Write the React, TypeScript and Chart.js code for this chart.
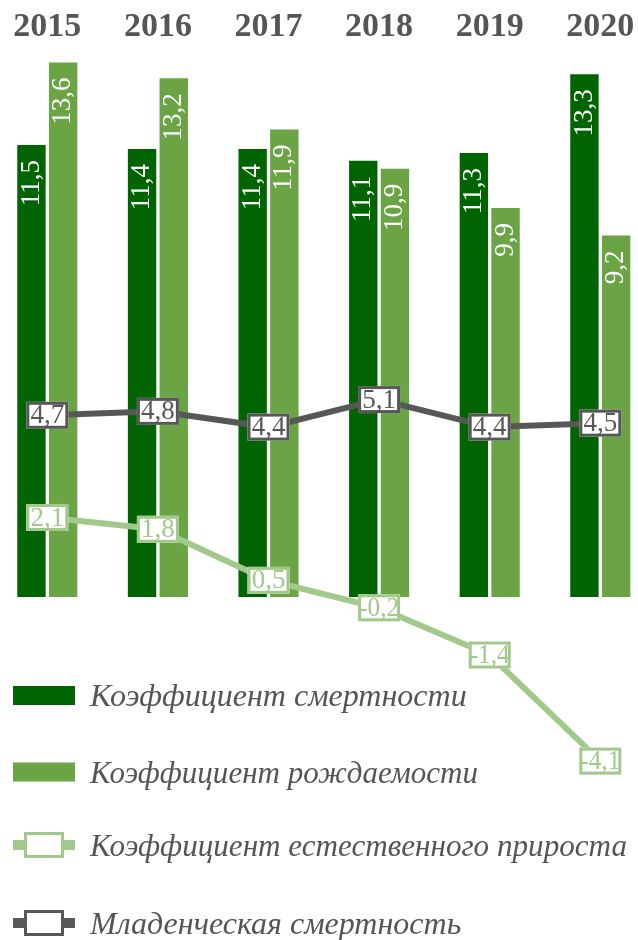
import React, { useEffect, useRef } from "react";
import { Chart, registerables } from "chart.js";

Chart.register(...registerables);

const years = ["2015", "2016", "2017", "2018", "2019", "2020"];
const mortality = [11.5, 11.4, 11.4, 11.1, 11.3, 13.3];
const birthRate = [13.6, 13.2, 11.9, 10.9, 9.9, 9.2];
const naturalGrowth = [2.1, 1.8, 0.5, -0.2, -1.4, -4.1];
const infantMortality = [4.7, 4.8, 4.4, 5.1, 4.4, 4.5];

const seriesNames = [
  "Коэффициент смертности",
  "Коэффициент рождаемости",
  "Коэффициент естественного прироста",
  "Младенческая смертность",
];

const DARK_GREEN = "#006400";
const MID_GREEN = "#6aa444";
const LIGHT_GREEN = "#a2c98b";
const GREY = "#575757";
const TEXT_GREY = "#555555";

const fmt = (v: number) => String(v).replace(".", ",");

const valueLabels = {
  id: "valueLabels",
  afterDatasetsDraw(chart: any) {
    const ctx = chart.ctx;
    chart.data.datasets.forEach((ds: any, i: number) => {
      const meta = chart.getDatasetMeta(i);
      meta.data.forEach((el: any, j: number) => {
        const text = fmt(ds.data[j]);
        if (ds.type === "bar") {
          ctx.save();
          ctx.translate(el.x, el.y + 15);
          ctx.rotate(-Math.PI / 2);
          ctx.font = '27px "Liberation Serif"';
          ctx.fillStyle = "#ffffff";
          ctx.textAlign = "right";
          ctx.textBaseline = "middle";
          ctx.fillText(text, 0, 0);
          ctx.restore();
        } else {
          const w = 42;
          const h = 27;
          const lw = 3;
          ctx.save();
          ctx.fillStyle = "#ffffff";
          ctx.fillRect(el.x - w / 2, el.y - h / 2, w, h);
          ctx.lineWidth = lw;
          ctx.strokeStyle = ds.borderColor;
          ctx.strokeRect(el.x - w / 2 + lw / 2, el.y - h / 2 + lw / 2, w - lw, h - lw);
          ctx.font = '27px "Liberation Serif"';
          ctx.fillStyle = ds.borderColor;
          ctx.textAlign = "center";
          ctx.textBaseline = "middle";
          ctx.fillText(text, el.x, el.y + 1, w - 2);
          ctx.restore();
        }
      });
    });
  },
};

const legendRows = [695.5, 772, 845, 923];
const legendWidths = [380, 388, 537, 380];

const customLegend = {
  id: "customLegend",
  afterDraw(chart: any) {
    const ctx = chart.ctx;
    const colors = [DARK_GREEN, MID_GREEN, LIGHT_GREEN, GREY];
    ctx.save();
    seriesNames.forEach((name, i) => {
      const cy = legendRows[i];
      const c = colors[i];
      if (i < 2) {
        ctx.fillStyle = c;
        ctx.fillRect(13, cy - 9.5, 62, 19);
      } else {
        ctx.fillStyle = c;
        ctx.fillRect(13, cy - 5, 62, 10);
        ctx.fillStyle = "#ffffff";
        ctx.fillRect(24, cy - 13, 40, 26);
        ctx.lineWidth = 3;
        ctx.strokeStyle = c;
        ctx.strokeRect(25.5, cy - 11.5, 37, 23);
      }
      ctx.font = 'italic 32px "Liberation Serif"';
      ctx.fillStyle = TEXT_GREY;
      ctx.textAlign = "left";
      ctx.textBaseline = "alphabetic";
      ctx.fillText(name, 90, cy + 10.5, legendWidths[i]);
    });
    ctx.restore();
  },
};

export default function App() {
  const ref = useRef<HTMLCanvasElement | null>(null);

  useEffect(() => {
    if (!ref.current) return;
    const chart = new Chart(ref.current, {
      type: "bar",
      data: {
        labels: years,
        datasets: [
          {
            type: "line",
            label: seriesNames[3],
            data: infantMortality,
            borderColor: GREY,
            backgroundColor: GREY,
            borderWidth: 6,
            pointRadius: 0,
            yAxisID: "y2",
            order: 0,
            clip: false,
          } as any,
          {
            type: "line",
            label: seriesNames[2],
            data: naturalGrowth,
            borderColor: LIGHT_GREEN,
            backgroundColor: LIGHT_GREEN,
            borderWidth: 6,
            pointRadius: 0,
            yAxisID: "y2",
            order: 0,
            clip: false,
          } as any,
          {
            type: "bar",
            label: seriesNames[0],
            data: mortality,
            backgroundColor: DARK_GREEN,
            barPercentage: 0.896,
            categoryPercentage: 0.573,
            yAxisID: "y",
            order: 1,
            clip: false,
          } as any,
          {
            type: "bar",
            label: seriesNames[1],
            data: birthRate,
            backgroundColor: MID_GREEN,
            barPercentage: 0.896,
            categoryPercentage: 0.573,
            yAxisID: "y",
            order: 1,
            clip: false,
          } as any,
        ],
      },
      options: {
        responsive: false,
        animation: false,
        devicePixelRatio: 1,
        layout: {
          padding: { left: 47.3, right: 37.7, top: 0, bottom: 146.5 },
        },
        plugins: {
          legend: { display: false },
          tooltip: { enabled: false },
        },
        scales: {
          x: {
            position: "top",
            offset: false,
            grid: { display: false, drawTicks: false },
            border: { display: false },
            afterFit: (scale: any) => {
              scale.height = 50;
            },
            ticks: {
              padding: 2,
              maxRotation: 0,
              minRotation: 0,
              autoSkip: false,
              color: TEXT_GREY,
              font: { family: '"Liberation Serif"', size: 34, weight: "bold" },
            },
          },
          y: {
            display: false,
            min: -5,
            max: 13.92,
          },
          y2: {
            display: false,
            min: -4.924,
            max: 13.996,
          },
        },
      } as any,
      plugins: [valueLabels, customLegend],
    });
    return () => chart.destroy();
  }, []);

  return (
    <div style={{ position: "absolute", left: 0, top: 0, width: 638, height: 940 }}>
      <canvas ref={ref} width={638} height={940} style={{ display: "block" }} />
    </div>
  );
}
